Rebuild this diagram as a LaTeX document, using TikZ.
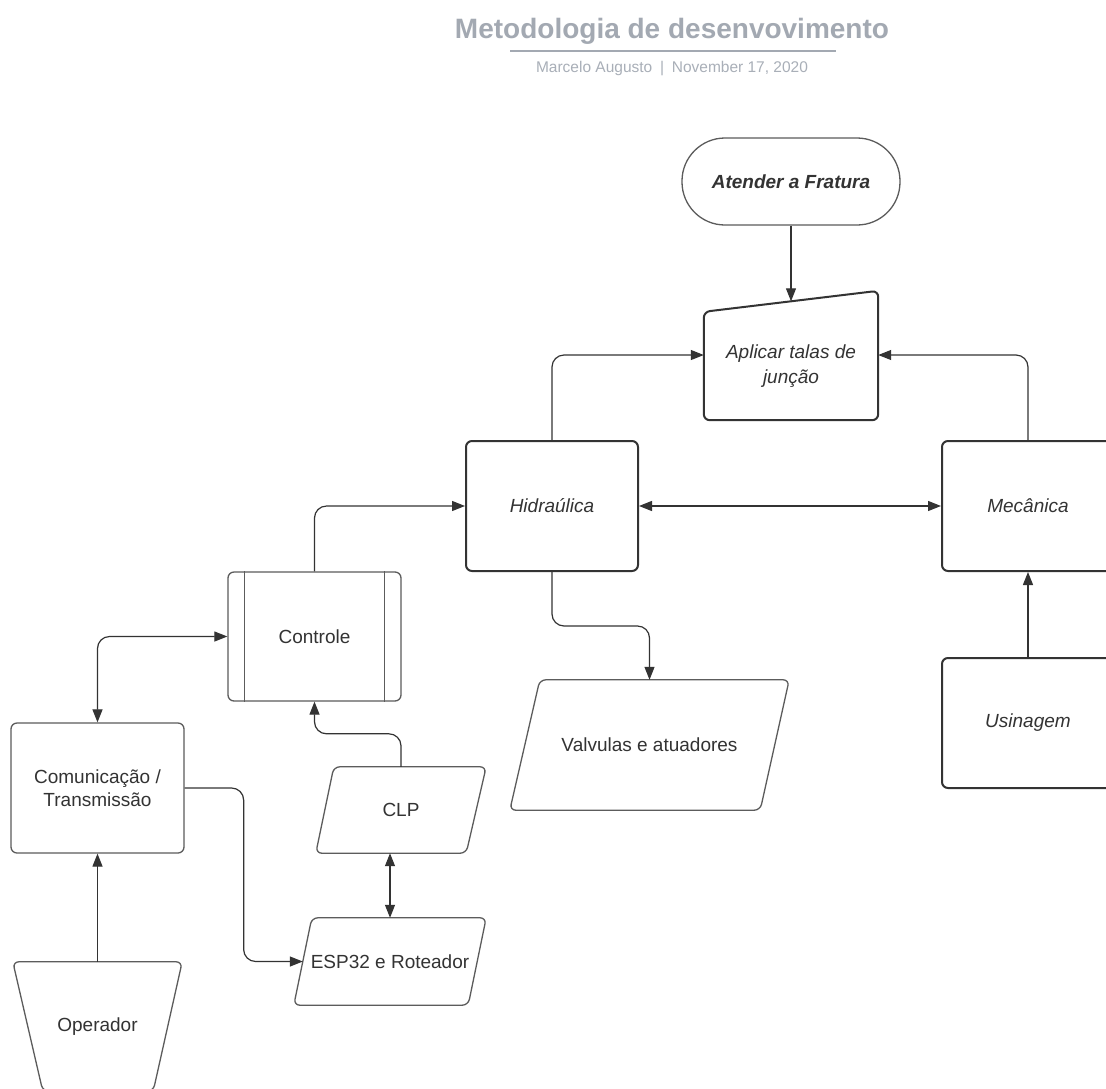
\documentclass[tikz,border=0pt]{standalone}
\usepackage{fontspec}
\setmainfont{Liberation Sans}
\usetikzlibrary{arrows.meta,calc}
\definecolor{ink}{HTML}{333333}
\definecolor{edgec}{HTML}{5C5C5C}
\definecolor{ttl}{HTML}{A3A9B2}
\definecolor{sub}{HTML}{A9AFB8}
\begin{document}
\begin{tikzpicture}[x=1pt,y=-1pt,
  box/.style={minimum width=172pt, minimum height=130pt, inner sep=0pt, text=ink,
              font=\fontsize{19}{23}\selectfont, align=center},
  heavy/.style={draw=ink, line width=2pt, rounded corners=6pt},
  light/.style={draw=edgec, line width=1.3pt, rounded corners=6pt},
  tip/.tip={Triangle[length=13pt,width=10pt]},
  conn/.style={draw=ink, line width=1.2pt, rounded corners=12pt, -tip},
  dconn/.style={draw=ink, line width=1.2pt, rounded corners=12pt, tip-tip}]
\useasboundingbox (0,0) rectangle (1106,1088);
\fill[white] (0,0) rectangle (1106,1088);

% title
\node[text=ttl, font=\fontsize{28}{32}\bfseries\selectfont] (title) at (672,31) {Metodologia de desenvovimento};
\draw[ttl, line width=2.2pt] (510,51) -- (836,51);
\node[text=sub, font=\fontsize{15.5}{18}\selectfont] (subtitle) at (672,69) {Marcelo Augusto\enspace|\enspace November 17, 2020};

% terminal
\node[box, minimum width=218pt, minimum height=87pt, draw=edgec, line width=1.3pt, rounded corners=43pt,
      font=\fontsize{19}{23}\bfseries\itshape\selectfont] (term) at (791,181.5) {Atender a Fratura};

% manual input
\node[box, minimum width=174pt, minimum height=108pt, font=\fontsize{19}{25}\itshape\selectfont] (ap) at (791,366) {Aplicar talas de\\junção};
\draw[heavy] (ap.south west) -- (ap.north west) -- ([yshift=21pt]ap.north east) -- (ap.south east) -- cycle;

% processes
\node[box, heavy, font=\fontsize{19}{23}\itshape\selectfont] (h) at (552,506) {Hidraúlica};
\node[box, heavy, font=\fontsize{19}{23}\itshape\selectfont] (m) at (1028,506) {Mecânica};
\node[box, heavy, font=\fontsize{19}{23}\itshape\selectfont] (u) at (1028,723) {Usinagem};

% valvulas
\node[box, minimum width=279pt] (v) at (649.5,745) {Valvulas e atuadores};
\draw[light] ([xshift=30pt]v.north west) -- (v.north east) -- ([xshift=-29pt]v.south east) -- (v.south west) -- cycle;

% controle
\node[box, minimum width=173pt, minimum height=129pt, light] (ctrl) at (314.5,636.5) {Controle};
\draw[edgec, line width=1.1pt] ([xshift=17pt]ctrl.north west) -- ([xshift=17pt]ctrl.south west)
      ([xshift=-17pt]ctrl.north east) -- ([xshift=-17pt]ctrl.south east);

% comunicacao
\node[box, minimum width=173pt, light] (comm) at (97.5,788) {Comunicação /\\Transmissão};

% CLP
\node[box, minimum width=170pt, minimum height=86pt] (clp) at (401,810) {CLP};
\draw[light] ([xshift=18pt]clp.north west) -- (clp.north east) -- ([xshift=-20pt]clp.south east) -- (clp.south west) -- cycle;

% ESP32
\node[box, minimum width=192pt, minimum height=87pt] (esp) at (390,961.5) {ESP32 e Roteador};
\draw[light] ([xshift=18pt]esp.north west) -- (esp.north east) -- ([xshift=-18pt]esp.south east) -- (esp.south west) -- cycle;

% Operador
\node[box, minimum width=169pt, minimum height=129pt] (op) at (97.5,1026.5) {Operador};
\draw[light] (op.north west) -- (op.north east) -- ([xshift=-29pt]op.south east) -- ([xshift=30pt]op.south west) -- cycle;

% connectors
\draw[conn] (term.south) -- ([yshift=10.5pt]ap.north);
\draw[conn] (h.north) |- ([yshift=11pt]ap.west);
\draw[conn] (m.north) |- ([yshift=11pt]ap.east);
\draw[dconn] (h.east) -- (m.west);
\draw[conn] (u.north) -- (m.south);
\draw[conn] (h.south) -- ++(0,54) -| (v.north);
\draw[conn] (ctrl.north) |- (h.west);
\draw[dconn] (ctrl.west) -| (comm.north);
\draw[conn] (clp.north) -- ++(0,-33) -| (ctrl.south);
\draw[dconn] (esp.north) -- (esp.north |- clp.south);
\draw[conn] (comm.east) -- ++(59,0) |- ([xshift=9pt]esp.west);
\draw[conn] (op.north) -- (comm.south);
\end{tikzpicture}
\end{document}
